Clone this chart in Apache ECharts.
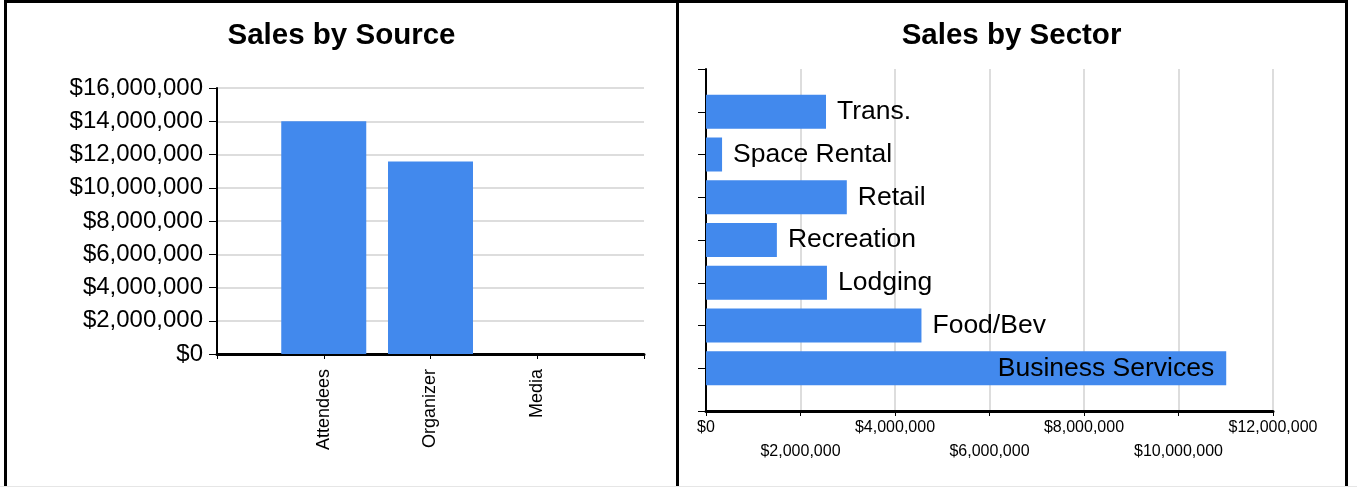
<!DOCTYPE html>
<html><head><meta charset="utf-8">
<script src="https://cdn.jsdelivr.net/npm/echarts@6/dist/echarts.min.js"></script>
<style>
html,body{margin:0;padding:0;background:#fff;overflow:hidden;}
#wrap{position:relative;width:1357px;height:487px;overflow:hidden;}
.panel{position:absolute;top:0;height:540px;border:3px solid #000;box-sizing:border-box;}
#chart{position:absolute;left:0;top:0;width:1357px;height:487px;}
</style></head>
<body><div id="wrap">
<div class="panel" style="left:4px;width:675px"></div>
<div class="panel" style="left:676px;width:672px"></div>
<div style="position:absolute;left:0;top:486px;width:1357px;height:1px;background:#e6e6e6"></div>
<div id="chart"></div></div>
<script>
// ---- data ----
const sourceCategories = ['Attendees', 'Organizer', 'Media'];
const sourceValues = [14000000, 11580000, 0];
const sourceTickLabels = ['$0', '$2,000,000', '$4,000,000', '$6,000,000', '$8,000,000', '$10,000,000', '$12,000,000', '$14,000,000', '$16,000,000'];

const sectorCategories = ['Business Services', 'Food/Bev', 'Lodging', 'Recreation', 'Retail', 'Space Rental', 'Trans.'];
const sectorValues = [11010000, 4560000, 2560000, 1500000, 2980000, 340000, 2540000];
const sectorTickLabels = ['$0', '$2,000,000', '$4,000,000', '$6,000,000', '$8,000,000', '$10,000,000', '$12,000,000'];
const sectorInsideLabels = ['Business Services'];

// ---- chart ----
const FONT = "'Liberation Sans', Arial, sans-serif";
const barColor = '#4289ED';
const gridColor = '#dddddd';
const padCat = a => [''].concat(a, ['']);
const padVal = a => [null].concat(a, [null]);

const sectorData = padVal(sectorValues).map((v, i) => {
  if (v === null) return null;
  const name = sectorCategories[i - 1];
  if (sectorInsideLabels.indexOf(name) >= 0) {
    return { value: v, label: { position: 'insideRight', distance: 12 } };
  }
  return v;
});

const chart = echarts.init(document.getElementById('chart'), null, { renderer: 'canvas' });
chart.setOption({
  animation: false,
  textStyle: { fontFamily: FONT },
  title: [
    { text: 'Sales by Source', left: 341.5, top: 21, textAlign: 'center', padding: 0,
      textStyle: { fontFamily: FONT, fontSize: 29.5, fontWeight: 'bold', color: '#000' } },
    { text: 'Sales by Sector', left: 1011.5, top: 21, textAlign: 'center', padding: 0,
      textStyle: { fontFamily: FONT, fontSize: 29.5, fontWeight: 'bold', color: '#000' } }
  ],
  grid: [
    { left: 217, top: 88, width: 427, height: 266 },
    { left: 706, top: 69, width: 567, height: 342 }
  ],
  xAxis: [
    { gridIndex: 0, type: 'category', data: padCat(sourceCategories), boundaryGap: false,
      axisLine: { show: true, lineStyle: { color: '#000', width: 3 } },
      axisTick: { show: true, interval: 0, length: 5, lineStyle: { color: '#000', width: 1 } },
      axisLabel: { show: true, interval: 0, rotate: 90, margin: 15, fontSize: 18, color: '#000', fontFamily: FONT },
      splitLine: { show: false } },
    { gridIndex: 1, type: 'value', min: 0, max: 12000000, interval: 2000000,
      axisLine: { show: true, lineStyle: { color: '#000', width: 3 } },
      axisTick: { show: true, length: 5, lineStyle: { color: '#000', width: 1 } },
      splitLine: { show: true, lineStyle: { color: gridColor, width: 2 } },
      axisLabel: { show: true, margin: 5, fontSize: 16, lineHeight: 24, color: '#000', fontFamily: FONT,
        formatter: (v, i) => (i % 2 ? '\n' : '') + sectorTickLabels[i] } }
  ],
  yAxis: [
    { gridIndex: 0, type: 'value', min: 0, max: 16000000, interval: 2000000,
      axisLine: { show: true, lineStyle: { color: '#000', width: 2 } },
      axisTick: { show: true, length: 8, lineStyle: { color: '#000', width: 1 } },
      splitLine: { show: true, lineStyle: { color: gridColor, width: 2 } },
      axisLabel: { show: true, margin: 14, fontSize: 24, color: '#000', fontFamily: FONT,
        formatter: (v, i) => sourceTickLabels[i] } },
    { gridIndex: 1, type: 'category', data: padCat(sectorCategories), boundaryGap: false,
      axisLine: { show: true, lineStyle: { color: '#000', width: 2 } },
      axisTick: { show: true, interval: 0, length: 8, lineStyle: { color: '#000', width: 1 } },
      axisLabel: { show: false },
      splitLine: { show: false } }
  ],
  series: [
    { type: 'bar', xAxisIndex: 0, yAxisIndex: 0, data: padVal(sourceValues), barWidth: 85,
      itemStyle: { color: barColor } },
    { type: 'bar', xAxisIndex: 1, yAxisIndex: 1, data: sectorData, barWidth: 34,
      itemStyle: { color: barColor },
      label: { show: true, position: 'right', distance: 11, fontSize: 26.5, color: '#000', fontFamily: FONT,
        formatter: p => p.name } }
  ]
});
</script>
</body></html>
